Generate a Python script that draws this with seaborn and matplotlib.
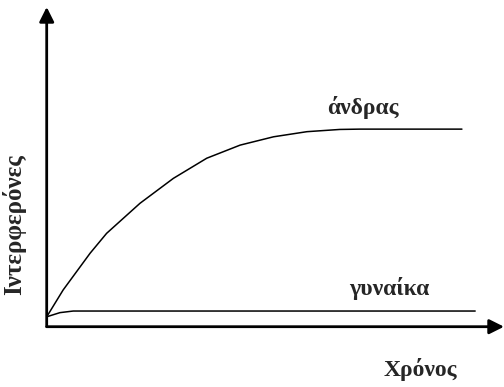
import matplotlib
matplotlib.use("Agg")
import matplotlib.pyplot as plt
import seaborn as sns
import pandas as pd

# Time (arbitrary units) and interferon level (arbitrary units)
andras_t = [0.0, 0.36, 0.95, 1.31, 2.04, 2.77, 3.50, 4.23, 4.96, 5.69, 6.41, 6.85, 9.08]
andras_y = [0.31, 1.15, 2.30, 2.92, 3.86, 4.64, 5.27, 5.68, 5.94, 6.10, 6.17, 6.18, 6.18]
gynaika_t = [0.0, 0.29, 0.58, 9.37]
gynaika_y = [0.31, 0.44, 0.49, 0.49]

series_labels = ["άνδρας", "γυναίκα"]
x_label = "Χρόνος"
y_label = "Ιντερφερόνες"

df = pd.concat([
    pd.DataFrame({"t": andras_t, "y": andras_y, "series": series_labels[0]}),
    pd.DataFrame({"t": gynaika_t, "y": gynaika_y, "series": series_labels[1]}),
])

sns.set_style("white")
plt.rcParams["font.family"] = ["Liberation Serif", "DejaVu Serif"]

fig = plt.figure(figsize=(5.04, 3.87), dpi=100)
ax = fig.add_axes([46.7 / 504, 60.3 / 387, 1 - 46.7 / 504, 319.7 / 387])

sns.lineplot(data=df, x="t", y="y", units="series", estimator=None,
             color="black", lw=1.1, sort=False, ax=ax, legend=False)

ax.set_xlim(0, 10)
ax.set_ylim(0, 10)
ax.set_xticks([])
ax.set_yticks([])
ax.set_xlabel("")
ax.set_ylabel("")
for s in ax.spines.values():
    s.set_visible(False)

arrow = dict(arrowstyle="-|>", lw=2.0, color="black", mutation_scale=22,
             shrinkA=0, shrinkB=0)
ax.annotate("", xy=(1, 0), xytext=(0, 0), xycoords="axes fraction",
            arrowprops=arrow, annotation_clip=False)
ax.annotate("", xy=(0, 1), xytext=(0, 0), xycoords="axes fraction",
            arrowprops=arrow, annotation_clip=False)

font = dict(fontsize=17, fontweight="bold", ha="center", va="center")
ax.text(6.91, 6.87, series_labels[0], **font)
ax.text(7.50, 1.18, series_labels[1], **font)
ax.text(8.18, -1.35, x_label, clip_on=False, **font)
fig.text(14 / 504, 1 - 225 / 387, y_label, rotation=90,
         **{**font, "fontsize": 18})

fig.savefig("out.png", dpi=100)
